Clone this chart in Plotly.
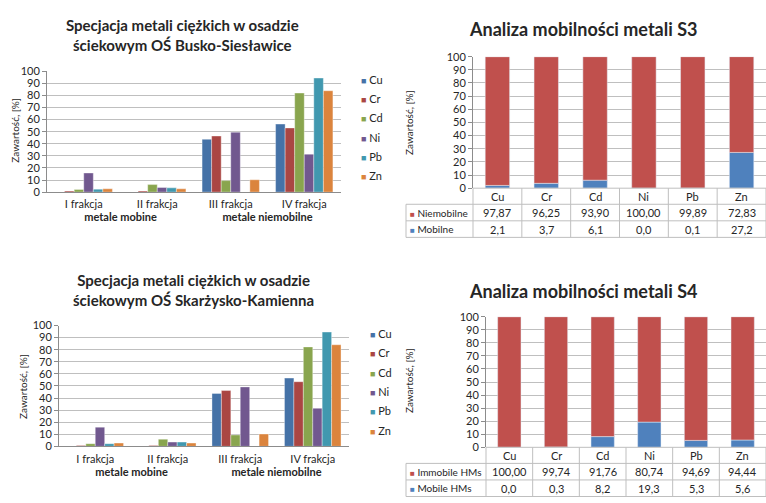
import plotly.graph_objects as go

W, H = 766, 503
FONT = "Lato"
TEXT = "#262626"
GRID = "#bfbfbf"
AXIS = "#8c8c8c"

# --- left charts: fractions of heavy metals in sewage sludge [%] ---
fractions = ["I frakcja", "II frakcja", "III frakcja", "IV frakcja"]
fraction_groups = ["metale mobine", "metale mobine", "metale niemobilne", "metale niemobilne"]
metals = ["Cu", "Cr", "Cd", "Ni", "Pb", "Zn"]
metal_colors = ["#4572A7", "#AA4643", "#89A54E", "#71588F", "#4198AF", "#DB843D"]

busko_cu = [0.0, 0.0, 43.7, 56.3]
busko_cr = [0.8, 0.8, 46.4, 53.1]
busko_cd = [2.1, 6.2, 9.5, 82.0]
busko_ni = [15.8, 3.8, 49.6, 31.4]
busko_pb = [2.4, 3.5, 0.0, 94.4]
busko_zn = [2.7, 2.7, 10.2, 83.9]

skarzysko_cu = [0.0, 0.0, 43.8, 56.5]
skarzysko_cr = [0.8, 0.8, 46.2, 53.5]
skarzysko_cd = [2.2, 5.9, 9.4, 82.3]
skarzysko_ni = [15.9, 3.5, 49.2, 31.5]
skarzysko_pb = [2.2, 3.5, 0.0, 94.6]
skarzysko_zn = [2.7, 2.7, 10.2, 84.1]

# --- right charts: mobility of metals [%] ---
s3_immobile = [97.87, 96.25, 93.90, 100.00, 99.89, 72.83]
s3_mobile = [2.1, 3.7, 6.1, 0.0, 0.1, 27.2]
s4_immobile = [100.00, 99.74, 91.76, 80.74, 94.69, 94.44]
s4_mobile = [0.0, 0.3, 8.2, 19.3, 5.3, 5.6]

RED = "#C0504D"
BLUE = "#4F81BD"


def fx(px):
    return px / W


def fy(py):
    return 1 - py / H


fig = go.Figure()

# grouped bars per fraction
bold_groups = [f"<b>{g}</b>" for g in fraction_groups]
left_sets = [
    ("x", "y", [busko_cu, busko_cr, busko_cd, busko_ni, busko_pb, busko_zn]),
    ("x2", "y2", [skarzysko_cu, skarzysko_cr, skarzysko_cd, skarzysko_ni, skarzysko_pb, skarzysko_zn]),
]
for xa, ya, series in left_sets:
    for name, color, vals in zip(metals, metal_colors, series):
        fig.add_trace(go.Bar(
            x=[bold_groups, fractions], y=vals, name=name,
            marker=dict(color=color, line=dict(color="rgba(255,255,255,0.6)", width=0.6)),
            xaxis=xa, yaxis=ya, showlegend=False,
        ))

# stacked mobility bars: mobile at the bottom, immobile on top
right_sets = [
    ("x3", "y3", "s3", s3_mobile, s3_immobile),
    ("x4", "y4", "s4", s4_mobile, s4_immobile),
]
for xa, ya, grp, mob, imm in right_sets:
    fig.add_trace(go.Bar(x=metals, y=mob, marker_color=BLUE, width=0.5,
                         offsetgroup=grp, xaxis=xa, yaxis=ya, showlegend=False))
    fig.add_trace(go.Bar(x=metals, y=imm, base=mob, marker_color=RED, width=0.5,
                         offsetgroup=grp, xaxis=xa, yaxis=ya, showlegend=False))


def fmt(v, nd):
    return f"{v:.{nd}f}".replace(".", ",")


def key(color, label, sq=9):
    return f"<span style='color:{color};font-size:{sq}px'>■</span> {label}"


ann = []
shapes = []

# data tables under the mobility charts: header row of metals, then one row per series
HEAD_H, ROW_H = 16.5, 17
tables = [
    ("x3", 406, 473, 186, ("Niemobilne", "Mobilne"), s3_immobile, s3_mobile),
    ("x4", 406, 486, 452, ("Immobile HMs", "Mobile HMs"), s4_immobile, s4_mobile),
]
for xa, x0, xc, y0, labels, imm, mob in tables:
    r1 = y0 + HEAD_H
    r2 = r1 + ROW_H
    r3 = r2 + ROW_H
    line = dict(color=GRID, width=1)
    # horizontal rules
    shapes.append(dict(type="line", xref="paper", yref="paper", x0=fx(xc), x1=1, y0=fy(y0), y1=fy(y0), line=line))
    for yy in (r1, r2, r3):
        shapes.append(dict(type="line", xref="paper", yref="paper", x0=fx(x0), x1=1, y0=fy(yy), y1=fy(yy), line=line))
    # vertical rules
    shapes.append(dict(type="line", xref="paper", yref="paper", x0=fx(x0), x1=fx(x0), y0=fy(r1), y1=fy(r3), line=line))
    shapes.append(dict(type="line", xref="paper", yref="paper", x0=fx(xc), x1=fx(xc), y0=fy(y0), y1=fy(r3), line=line))
    for k in range(len(metals)):
        shapes.append(dict(type="line", xref=xa, yref="paper", x0=k + 0.5, x1=k + 0.5,
                           y0=fy(y0), y1=fy(r3), line=line))
    # cell texts
    for m, a, b in zip(metals, imm, mob):
        ann.append(dict(xref=xa, x=m, y=fy((y0 + r1) / 2), text=m, font=dict(size=11)))
        ann.append(dict(xref=xa, x=m, y=fy((r1 + r2) / 2), text=fmt(a, 2), font=dict(size=11)))
        ann.append(dict(xref=xa, x=m, y=fy((r2 + r3) / 2), text=fmt(b, 1), font=dict(size=11)))
    for lab, color, ya, yb in ((labels[0], RED, r1, r2), (labels[1], BLUE, r2, r3)):
        ann.append(dict(x=fx(x0 + 2), y=fy((ya + yb) / 2), xanchor="left",
                        text=key(color, lab, 8), font=dict(size=10)))

yaxis_common = dict(range=[0, 100], dtick=10, showgrid=True, gridcolor=GRID, gridwidth=1,
                    showline=True, linecolor=AXIS, ticks="outside", ticklen=4, tickcolor=AXIS,
                    zeroline=False, tickfont=dict(family=FONT, size=11, color=TEXT), fixedrange=True)
xleft_common = dict(type="multicategory", showline=True, linecolor=AXIS, showdividers=False,
                    ticks="", ticklabelstandoff=2,
                    tickfont=dict(family=FONT, size=11, color=TEXT), showgrid=False)
xright_common = dict(type="category", showline=False, showticklabels=False, ticks="",
                     showgrid=False, range=[-0.5, 5.5])

fig.update_layout(
    width=W, height=H, margin=dict(l=0, r=0, t=0, b=0),
    paper_bgcolor="white", plot_bgcolor="white",
    barmode="group", bargap=0.22, bargroupgap=0,
    font=dict(family=FONT, color=TEXT),
    showlegend=False,
    xaxis=dict(domain=[fx(47), fx(341)], anchor="y", **xleft_common),
    yaxis=dict(domain=[fy(190), fy(66)], anchor="x", **yaxis_common),
    xaxis2=dict(domain=[fx(59), fx(349)], anchor="y2", **xleft_common),
    yaxis2=dict(domain=[fy(451), fy(327)], anchor="x2", **yaxis_common),
    xaxis3=dict(domain=[fx(473), 1], anchor="y3", **xright_common),
    yaxis3=dict(domain=[fy(186), fy(51)], anchor="x3", **yaxis_common),
    xaxis4=dict(domain=[fx(486), 1], anchor="y4", **xright_common),
    yaxis4=dict(domain=[fy(452), fy(318)], anchor="x4", **yaxis_common),
)

# titles
ann.append(dict(x=fx(182), y=fy(29), text="<b>Specjacja metali ciężkich w osadzie<br>ściekowym OŚ Busko-Siesławice</b>",
                font=dict(size=15)))
ann.append(dict(x=fx(193), y=fy(290), text="<b>Specjacja metali ciężkich w osadzie<br>ściekowym OŚ Skarżysko-Kamienna</b>",
                font=dict(size=15)))
ann.append(dict(x=fx(583), y=fy(23), text="<b>Analiza mobilności metali S3</b>", font=dict(size=18)))
ann.append(dict(x=fx(583), y=fy(292), text="<b>Analiza mobilności metali S4</b>", font=dict(size=18)))
# y-axis titles
for xp, yp in [(15, 127), (23, 390), (409, 118), (409, 383)]:
    ann.append(dict(x=fx(xp), y=fy(yp), text="Zawartość, [%]", textangle=-90, font=dict(size=10)))
# series keys for the fraction charts
for lx, ly0 in [(359, 74), (368, 335)]:
    for i, (name, color) in enumerate(zip(metals, metal_colors)):
        ann.append(dict(x=fx(lx), y=fy(ly0 + i * 19.85), xanchor="left",
                        text=key(color, name), font=dict(size=11)))
for a in ann:
    a.setdefault("xref", "paper")
    a.setdefault("yref", "paper")
    a.setdefault("xanchor", "center")
    a.setdefault("yanchor", "middle")
    a.setdefault("showarrow", False)
    a["font"] = dict(family=FONT, color=TEXT, **a.get("font", {}))
fig.update_layout(annotations=ann, shapes=shapes)

fig.write_html("out.html")
